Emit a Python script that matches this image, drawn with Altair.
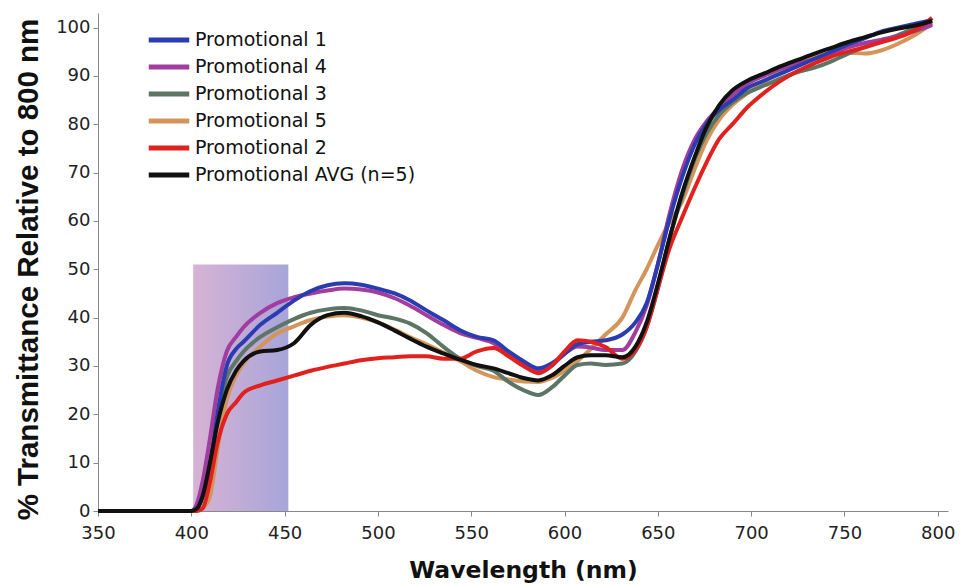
import altair as alt
import pandas as pd

# ---- data ----
WAVELENGTH = [350, 400, 403, 406, 410, 414, 419, 424, 428, 437, 446, 455, 464, 473, 482, 491,
              500, 509, 517, 526, 535, 544, 553, 562, 570, 578, 586, 593, 600, 607, 614, 622,
              631, 638, 644, 650, 656, 663, 670, 676, 683, 690, 698, 707, 716, 725, 734, 743,
              752, 761, 770, 779, 788, 797]

PROMO_1 = [0, 0, 0.5, 3, 9, 20, 30, 33.5, 35, 38.5, 41, 43.5, 45.5, 46.7, 47.1, 46.8,
           46, 45, 43.6, 41.5, 39.5, 37.4, 36, 35.3, 33, 31, 29.5, 30.5, 32.5, 34.5, 35, 35.3,
           36.5, 39, 43, 51, 60, 69, 76, 80, 83, 85, 87.5, 89, 90.5, 92, 93.5, 95,
           96.5, 97.8, 99.2, 100, 100.8, 101.5]

PROMO_4 = [0, 0, 1.5, 6, 15, 25, 33, 36, 38, 41, 43, 44.2, 45, 45.6, 46, 45.8,
           45.2, 44, 42.5, 40.5, 38.5, 36.8, 35.8, 34.7, 32.5, 30.5, 28.8, 30, 32.5, 34, 33.8, 33.3,
           33.3, 37, 42.5, 51, 61, 70.5, 77, 80.5, 83.5, 86, 88.4, 90, 91.5, 92.5, 93.5, 94.7,
           95.9, 96.8, 97.5, 98.2, 99.3, 100.5]

PROMO_3 = [0, 0, 0.5, 3, 10, 19, 27.7, 31, 33, 36, 38, 39.7, 41, 41.7, 42, 41.5,
           40.5, 39.8, 38.8, 36.8, 34, 31.5, 30, 29, 26.7, 25, 24, 25.5, 28, 30.2, 30.5, 30.2,
           30.5, 33, 38, 46, 56, 65, 73, 78, 82, 84.5, 86.5, 88, 89.5, 90.8, 91.7, 93,
           94.6, 96, 97.2, 98.5, 99.8, 101]

PROMO_5 = [0, 0, 0, 0.5, 3, 12.6, 23, 28, 30.5, 34, 36.7, 38.2, 39.5, 40.2, 40.5, 40,
           39, 37.5, 36, 34.5, 32.8, 31, 29, 27.7, 27.2, 26.8, 26.7, 27.5, 29, 31, 33.5, 36.5,
           40, 45.7, 50, 55, 59.5, 64, 71, 76.5, 81, 84, 86.4, 88.8, 91, 92.8, 94, 94.6,
           94.8, 94.6, 95.3, 96.7, 98.5, 100.8]

PROMO_2 = [0, 0, 0, 0.5, 6, 14, 20, 22.5, 24.4, 26, 27, 28, 29, 29.8, 30.5, 31.2,
           31.6, 31.8, 32, 32, 31.5, 31.5, 33, 33.7, 32, 30, 28.5, 30, 33, 35.3, 35, 33.9,
           31.5, 33.3, 38, 46, 54, 60.7, 67, 72, 77, 80, 83.5, 86.5, 89, 91, 92.6, 94,
           95, 95.9, 97, 98, 99.5, 102]

PROMO_AVG = [0, 0, 0.5, 3, 10, 18, 25, 29, 31, 33, 33.3, 34.7, 38.5, 40.5, 41, 40.3,
             39, 37.3, 35.7, 34, 32.6, 31.3, 30.2, 29.5, 28.5, 27.5, 27, 28, 30, 31.8, 32.2, 32.2,
             31.8, 34, 39, 47, 56, 65.7, 73.5, 79.3, 84, 87, 89, 90.5, 92, 93.3, 94.6, 95.8,
             97, 98, 99, 99.8, 100.4, 101.4]

SERIES_NAMES = ["Promotional 1", "Promotional 4", "Promotional 3",
                "Promotional 5", "Promotional 2", "Promotional AVG (n=5)"]
SERIES_VALUES = [PROMO_1, PROMO_4, PROMO_3, PROMO_5, PROMO_2, PROMO_AVG]
SERIES_COLORS = ["#2b3cb0", "#a33c9f", "#5c7564", "#d4955a", "#e1211e", "#111111"]
DRAW_ORDER = ["Promotional 5", "Promotional 3", "Promotional 4",
              "Promotional 1", "Promotional 2", "Promotional AVG (n=5)"]

BAND_START, BAND_END, BAND_TOP = 401, 452, 51

X_TICKS = [350, 400, 450, 500, 550, 600, 650, 700, 750, 800]
Y_TICKS = [0, 10, 20, 30, 40, 50, 60, 70, 80, 90, 100]

# ---- build tables ----
rows = []
for name in DRAW_ORDER:
    vals = SERIES_VALUES[SERIES_NAMES.index(name)]
    for w, v in zip(WAVELENGTH, vals):
        rows.append({"wavelength": w, "value": v, "series": name})
df = pd.DataFrame(rows)

band = pd.DataFrame({"x": [BAND_START], "x2": [BAND_END], "y": [0], "y2": [BAND_TOP]})

xscale = alt.Scale(domain=[350, 805.5], nice=False, zero=False)
yscale = alt.Scale(domain=[0, 103], nice=False)

gradient = alt.LinearGradient(
    gradient="linear",
    stops=[alt.GradientStop(color="#d7b3d5", offset=0),
           alt.GradientStop(color="#a7a5d9", offset=1)],
    x1=0, x2=1, y1=0, y2=0,
)

rect = alt.Chart(band).mark_rect(color=gradient, opacity=1).encode(
    x=alt.X("x:Q", scale=xscale),
    x2="x2:Q",
    y=alt.Y("y:Q", scale=yscale),
    y2="y2:Q",
)

lines = alt.Chart(df).mark_line(strokeWidth=4, interpolate="monotone").encode(
    x=alt.X("wavelength:Q", scale=xscale,
            axis=alt.Axis(values=X_TICKS, title="Wavelength (nm)", grid=False,
                          labelFlush=False, labelPadding=8,
                          titleFontSize=23.5, titlePadding=16)),
    y=alt.Y("value:Q", scale=yscale,
            axis=alt.Axis(values=Y_TICKS, title="% Transmittance Relative to 800 nm",
                          grid=False, titleFontSize=29.5, titleFont="Liberation Sans",
                          titlePadding=12, titleY=256)),
    color=alt.Color("series:N",
                    scale=alt.Scale(domain=SERIES_NAMES, range=SERIES_COLORS),
                    legend=alt.Legend(title=None, orient="none", legendX=55, legendY=11,
                                      symbolType="M-1.5,0H1.5", symbolSize=729,
                                      symbolStrokeWidth=5, labelFontSize=19,
                                      labelFont="DejaVu Sans", labelColor="#111",
                                      labelLimit=400,
                                      rowPadding=1, labelOffset=10)),
    detail="series:N",
)

chart = alt.layer(rect, lines).properties(
    width=850, height=498,
    autosize="none",
    padding={"left": 90, "top": 5, "right": 7, "bottom": 73},
).configure_view(stroke=None).configure_axis(
    domainColor="#888", tickColor="#888", tickSize=5,
    labelFont="DejaVu Sans", labelFontSize=18, labelColor="#222",
    titleFont="DejaVu Sans", titleFontWeight="bold", titleColor="#111",
    labelPadding=3,
)

chart.save("out.html", embed_options={"renderer": "svg", "actions": False})
